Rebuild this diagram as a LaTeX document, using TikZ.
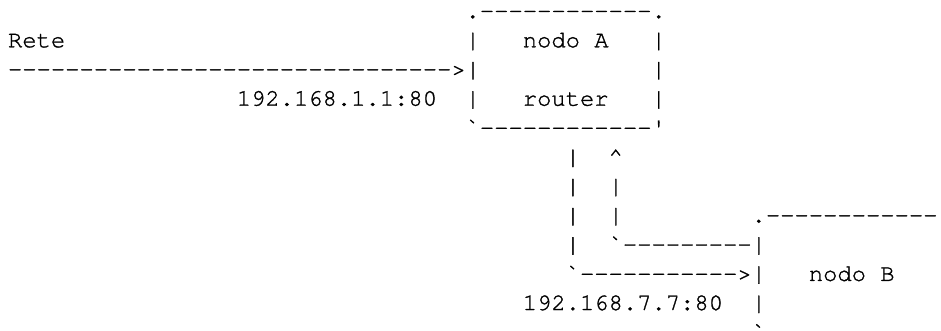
\documentclass[tikz,border=0pt]{standalone}
\usepackage{fontspec}
\setmonofont[FakeBold=1.2]{TeX Gyre Cursor}
\usepackage{tikz}
\tikzset{
  glyph/.style={font=\ttfamily\fontsize{11.92}{14.6}\selectfont,anchor=base west,inner sep=0pt,outer sep=0pt},
  tag/.style={glyph}
}

\begin{document}
\begin{tikzpicture}[x=7.15pt,y=-14.6pt]
\useasboundingbox (-4pt,9.05pt) rectangle (466.5pt,-156.45pt);
% nodo A
\node[glyph] (boxAtop) at (32,0) {.------------.};
\node[tag] (rete) at (0,1) {Rete};
\node[glyph] (boxAl1) at (32,1) {|};
\node[tag] (nodoA) at (36,1) {nodo A};
\node[glyph] (boxAr1) at (45,1) {|};
\node[glyph] (inArrow) at (0,2) {------------------------------->|};
\node[glyph] (boxAr2) at (45,2) {|};
\node[tag] (ipA) at (16,3) {192.168.1.1:80};
\node[glyph] (boxAl3) at (32,3) {|};
\node[tag] (router) at (36,3) {router};
\node[glyph] (boxAr3) at (45,3) {|};
\node[glyph] (boxAbot) at (32,4) {`------------'};
% collegamenti
\node[glyph] (down1) at (39,5) {|};
\node[glyph] (upTip) at (42,5) {\textasciicircum};
\node[glyph] (down2) at (39,6) {|};
\node[glyph] (up2) at (42,6) {|};
\node[glyph] (down3) at (39,7) {|};
\node[glyph] (up3) at (42,7) {|};
\node[glyph] (down4) at (39,8) {|};
\node[glyph] (retLine) at (42,8) {`---------|};
\node[glyph] (fwdLine) at (39,9) {`----------->|};
% nodo B
\node[glyph] (boxBtop) at (52,7) {.------------};
\node[tag] (nodoB) at (56,9) {nodo B};
\node[tag] (ipB) at (36,10) {192.168.7.7:80};
\node[glyph] (boxBl10) at (52,10) {|};
\node[glyph] (boxBcorner) at (52,11) {`};
\end{tikzpicture}
\end{document}
